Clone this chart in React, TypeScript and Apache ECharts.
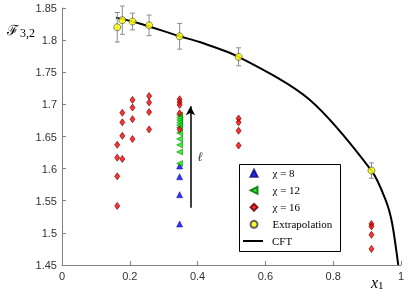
import React, { useEffect, useRef } from 'react';
import * as echarts from 'echarts';

// x positions of the data columns
const columnX = [0.163, 0.178, 0.208, 0.257, 0.347, 0.521, 0.913];

// Extrapolated values with error bars
const extrapY = [1.820, 1.831, 1.829, 1.823, 1.806, 1.774, 1.597];
const extrapErr = [0.023, 0.022, 0.013, 0.016, 0.020, 0.014, 0.012];

// chi = 16 values per column
const chi16Col0 = [1.637, 1.617, 1.588, 1.542];
const chi16Col1 = [1.687, 1.672, 1.651, 1.615];
const chi16Col2 = [1.707, 1.695, 1.677, 1.646];
const chi16Col3 = [1.713, 1.703, 1.688, 1.661];
const chi16Col4 = [1.708, 1.7035, 1.699, 1.686, 1.661];
const chi16Col5 = [1.678, 1.672, 1.659, 1.636];
const chi16Col6 = [1.514, 1.510, 1.497, 1.475];
const chi16Cols = [chi16Col0, chi16Col1, chi16Col2, chi16Col3, chi16Col4, chi16Col5, chi16Col6];

// chi = 12 and chi = 8 values (at x = 0.347)
const chi12X = 0.347;
const chi12Y = [1.6835, 1.6796, 1.6757, 1.6718, 1.6679, 1.664, 1.6554, 1.6461, 1.6368, 1.6259, 1.608];
const chi8X = 0.347;
const chi8Y = [1.604, 1.5874, 1.5594, 1.5138];

// CFT curve
const cftX = [0.159, 0.229, 0.347, 0.406, 0.521, 0.729, 0.913, 0.955, 0.974, 0.992];
const cftY = [1.835, 1.826, 1.806, 1.797, 1.774, 1.708, 1.597, 1.551, 1.515, 1.45];

// arrow (ell direction)
const arrowX = 0.379;
const arrowY = [1.539, 1.697];
const ellLabelPos = [0.408, 1.6186];

const scatterLegendNames = ['χ = 8', 'χ = 12', 'χ = 16', 'Extrapolation'];
const lineLegendNames = ['CFT'];

export default function App() {
  const ref = useRef<HTMLDivElement>(null);
  useEffect(() => {
    const chart = echarts.init(ref.current!, null, { renderer: 'svg' });
    const chi16Data: number[][] = [];
    chi16Cols.forEach((col, i) => col.forEach((y) => chi16Data.push([columnX[i], y])));
    const errData = columnX.map((x, i) => [x, extrapY[i] - extrapErr[i], extrapY[i] + extrapErr[i]]);
    const axisGray = '#808080';
    const legendText = { fontFamily: 'Liberation Serif', fontSize: 11, lineHeight: 12, color: '#000' };
    chart.setOption({
      animation: false,
      grid: { left: 62, right: 5, top: 8, bottom: 25 },
      xAxis: {
        type: 'value', min: 0, max: 1, interval: 0.2,
        splitLine: { show: false },
        axisLine: { lineStyle: { color: axisGray } },
        axisTick: { inside: true, length: 4, lineStyle: { color: axisGray } },
        axisLabel: { margin: 5, fontFamily: 'Liberation Sans', fontSize: 11, color: '#333',
          formatter: (v: number) => String(+v.toFixed(2)) },
      },
      yAxis: {
        type: 'value', min: 1.45, max: 1.85, interval: 0.05,
        splitLine: { show: false },
        axisLine: { show: true, lineStyle: { color: axisGray } },
        axisTick: { show: true, inside: true, length: 4, lineStyle: { color: axisGray } },
        axisLabel: { margin: 5, fontFamily: 'Liberation Sans', fontSize: 11, color: '#333',
          formatter: (v: number) => String(+v.toFixed(2)) },
      },
      graphic: [
        {
          type: 'rect', left: 239, top: 164, z: 0, silent: true,
          shape: { width: 101, height: 87 },
          style: { fill: '#fff', stroke: '#000', lineWidth: 1 },
        },
      ],
      legend: [
        {
          orient: 'vertical', left: 249.5, top: 167.3,
          data: scatterLegendNames.map((n) => n === 'χ = 12'
            ? { name: n, icon: 'path://M0,5L10,0L10,10Z' }
            : { name: n }),
          itemWidth: 7, itemHeight: 7, itemGap: 5, padding: 0,
          textStyle: { ...legendText, padding: [0, 0, 0, 10] },
          z: 5,
        },
        {
          orient: 'vertical', left: 243, top: 235,
          data: lineLegendNames.map((n) => ({ name: n, icon: 'rect' })),
          itemWidth: 20, itemHeight: 2, itemGap: 5, padding: 0,
          textStyle: { ...legendText, padding: [0, 0, 0, 4] },
          z: 5,
        },
      ],
      title: [
        {
          text: '{f|ℱ}{s|3,2}', left: 2, top: 15,
          textStyle: { fontWeight: 'normal', rich: {
            f: { fontFamily: 'DejaVu Serif', fontWeight: 'normal', fontSize: 14, color: '#000' },
            s: { fontFamily: 'Liberation Serif', fontWeight: 'normal', fontSize: 12, color: '#000', padding: [7, 0, 0, 1] },
          } },
        },
        {
          text: '{x|x}{s|1}', left: 366, top: 269,
          textStyle: { fontWeight: 'normal', rich: {
            x: { fontFamily: 'Liberation Serif', fontStyle: 'italic', fontWeight: 'normal', fontSize: 16, lineHeight: 16, color: '#000' },
            s: { fontFamily: 'Liberation Serif', fontWeight: 'normal', fontSize: 11, lineHeight: 11, color: '#000', padding: [5, 0, 0, 0] },
          } },
        },
      ],
      series: [
        {
          name: 'CFT', type: 'line', data: cftX.map((x, i) => [x, cftY[i]]),
          symbol: 'none', smooth: 0.3, clip: true,
          lineStyle: { color: '#000', width: 2 }, itemStyle: { color: '#000' }, z: 2,
          markLine: {
            silent: true, symbol: ['none', 'arrow'], symbolSize: [7, 9],
            lineStyle: { color: '#000', width: 1.5, type: 'solid' },
            label: { show: false },
            data: [[{ coord: [arrowX, arrowY[0]] }, { coord: [arrowX, arrowY[1]] }]],
          },
          markPoint: {
            silent: true, symbol: 'circle', symbolSize: 0,
            label: { show: true, formatter: 'ℓ', fontFamily: 'DejaVu Serif', fontStyle: 'italic', fontSize: 13, color: '#444', offset: [0, 0] },
            data: [{ coord: ellLabelPos }],
          },
        },
        {
          name: 'errors', type: 'custom', z: 3,
          renderItem: (params: any, api: any) => {
            const x = api.value(0);
            const lo = api.coord([x, api.value(1)]);
            const hi = api.coord([x, api.value(2)]);
            const w = 2.5;
            const st = { stroke: '#8c8c8c', lineWidth: 1 };
            return {
              type: 'group', children: [
                { type: 'line', shape: { x1: lo[0], y1: lo[1], x2: hi[0], y2: hi[1] }, style: st },
                { type: 'line', shape: { x1: lo[0] - w, y1: lo[1], x2: lo[0] + w, y2: lo[1] }, style: st },
                { type: 'line', shape: { x1: hi[0] - w, y1: hi[1], x2: hi[0] + w, y2: hi[1] }, style: st },
              ],
            };
          },
          data: errData,
        },
        {
          name: 'χ = 8', type: 'scatter', symbol: 'triangle', symbolSize: [6, 6], z: 4,
          itemStyle: { color: '#0000ff', borderColor: '#000080', borderWidth: 0.6 },
          data: chi8Y.map((y) => [chi8X, y]),
        },
        {
          name: 'χ = 12', type: 'scatter', symbol: 'triangle', symbolSize: [6, 6], symbolRotate: 90, z: 5,
          itemStyle: { color: '#00ee00', borderColor: '#006400', borderWidth: 0.6 },
          data: chi12Y.map((y) => [chi12X, y]),
        },
        {
          name: 'χ = 16', type: 'scatter', symbol: 'diamond', symbolSize: [5, 7], z: 6,
          itemStyle: { color: '#ff0000', borderColor: '#600000', borderWidth: 0.8 },
          data: chi16Data,
        },
        {
          name: 'Extrapolation', type: 'scatter', symbol: 'circle', symbolSize: 7, z: 7,
          itemStyle: { color: '#ffff00', borderColor: '#404040', borderWidth: 0.8 },
          data: columnX.map((x, i) => [x, extrapY[i]]),
        },
      ],
    });
    return () => chart.dispose();
  }, []);
  return <div ref={ref} style={{ position: 'fixed', left: 0, top: 0, width: 407, height: 290 }} />;
}
